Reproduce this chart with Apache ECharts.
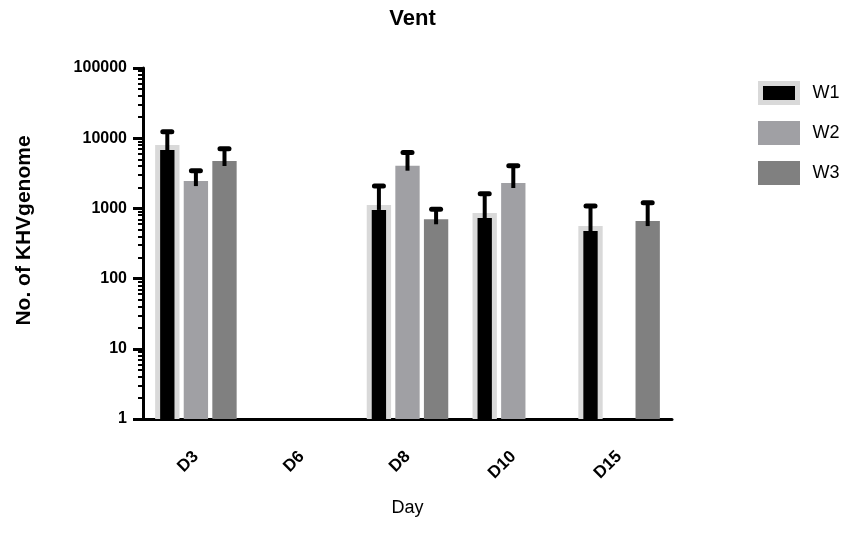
<!DOCTYPE html>
<html>
<head>
<meta charset="utf-8">
<script src="https://cdn.jsdelivr.net/npm/echarts@6/dist/echarts.min.js"></script>
<style>
html, body { margin: 0; padding: 0; background: #ffffff; }
#chart { width: 857px; height: 537px; }
</style>
</head>
<body>
<div id="chart"></div>
<script>
// ---- data ----
const days = ['D3', 'D6', 'D8', 'D10', 'D15'];
const seriesNames = ['W1', 'W2', 'W3'];
const w1Mean  = [8000, null, 1120, 860, 560];
const w1Upper = [12400, null, 2080, 1620, 1080];
const w2Mean  = [2450, null, 4060, 2300, null];
const w2Upper = [3440, null, 6250, 4060, null];
const w3Mean  = [4730, null, 700, null, 660];
const w3Upper = [7080, null, 970, null, 1200];
const yMin = 1;
const yMax = 100000;

// ---- styling ----
const FONT = 'Liberation Sans';
const C_W1_FILL = '#000000';
const C_W1_EDGE = '#d9d9d9';
const C_W2 = '#a0a0a4';
const C_W3 = '#808080';
const BAR_FRAC = 0.23;   // bar width as fraction of category band
const GAP_FRAC = 0.175;  // gap between bars as fraction of bar width
const INSET = 5;         // W1 light border thickness

// minor tick positions (log10 of 2..9 in each decade) for the overlay tick axis
const minorExp = [];
for (let d = 0; d < 5; d++) {
  for (let m = 2; m <= 9; m++) minorExp.push(d + Math.log10(m));
}

function errData(mean, upper) {
  const out = [];
  days.forEach((d, i) => { if (mean[i] != null) out.push([i, mean[i], upper[i]]); });
  return out;
}

function makeRender(slot, inner) {
  return function (params, api) {
    const ci = api.value(0);
    const top = api.coord([ci, api.value(1)]);
    const up = api.coord([ci, api.value(2)]);
    const base = api.coord([ci, yMin]);
    const band = api.size([1, 0], [ci, 1])[0];
    const bw = band * BAR_FRAC;
    const cx = top[0] + (slot - 1) * bw * (1 + GAP_FRAC);
    const children = [];
    if (inner) {
      children.push({
        type: 'rect',
        shape: { x: cx - bw / 2 + INSET, y: top[1] + INSET, width: bw - 2 * INSET, height: base[1] - top[1] - INSET },
        style: { fill: C_W1_FILL }
      });
    }
    children.push({
      type: 'line',
      shape: { x1: cx, y1: top[1] + 5, x2: cx, y2: up[1] },
      style: { stroke: '#000', lineWidth: 4 }
    });
    children.push({
      type: 'line',
      shape: { x1: cx - 4.5, y1: up[1], x2: cx + 4.5, y2: up[1] },
      style: { stroke: '#000', lineWidth: 5, lineCap: 'round' }
    });
    return { type: 'group', children: children };
  };
}

const chart = echarts.init(document.getElementById('chart'), null, { renderer: 'canvas' });

const option = {
  backgroundColor: '#ffffff',
  animation: false,
  title: {
    text: 'Vent',
    left: 407.5,
    textAlign: 'center',
    top: 3,
    textStyle: { fontFamily: FONT, fontSize: 22, fontWeight: 'bold', color: '#000' }
  },
  legend: {
    orient: 'vertical',
    left: 753,
    top: 76,
    itemWidth: 37,
    itemHeight: 19,
    itemGap: 16,
    icon: 'rect',
    selectedMode: false,
    data: [
      { name: seriesNames[0], itemStyle: { color: C_W1_FILL, borderColor: C_W1_EDGE, borderWidth: 5 } },
      { name: seriesNames[1], itemStyle: { color: C_W2, borderColor: C_W2, borderWidth: 5 } },
      { name: seriesNames[2], itemStyle: { color: C_W3, borderColor: C_W3, borderWidth: 5 } }
    ],
    textStyle: { fontFamily: FONT, fontSize: 18, color: '#000', lineHeight: 19, padding: [0, 0, 0, 10] }
  },
  grid: { left: 143, right: 185, top: 68, bottom: 118, containLabel: false },
  xAxis: {
    type: 'category',
    data: days,
    boundaryGap: true,
    name: 'Day',
    nameLocation: 'middle',
    nameGap: 80,
    nameTextStyle: { fontFamily: FONT, fontSize: 18, color: '#000' },
    axisLine: { lineStyle: { color: '#000', width: 3 } },
    axisTick: { alignWithLabel: true, length: 10, lineStyle: { color: '#000', width: 3 } },
    axisLabel: { rotate: 45, margin: 35, fontFamily: FONT, fontSize: 17, fontWeight: 'bold', color: '#000' },
    splitLine: { show: false }
  },
  yAxis: [
    {
      type: 'log',
      logBase: 10,
      min: yMin,
      max: yMax,
      name: 'No. of KHVgenome',
      nameLocation: 'middle',
      nameGap: 108,
      nameTextStyle: { fontFamily: FONT, fontSize: 21, fontWeight: 'bold', color: '#000', padding: [0, 0, 0, 26] },
      axisLine: { show: true, lineStyle: { color: '#000', width: 3 } },
      axisTick: { show: true, length: 10, lineStyle: { color: '#000', width: 3 } },
      axisLabel: {
        margin: 16,
        fontFamily: FONT, fontSize: 16, fontWeight: 'bold', color: '#000',
        formatter: function (v) { return String(Math.round(v)); }
      },
      splitLine: { show: false }
    },
    {
      type: 'value',
      min: 0,
      max: 5,
      position: 'left',
      axisLine: { show: false },
      axisLabel: { show: false },
      splitLine: { show: false },
      axisTick: { show: true, customValues: minorExp, length: 5, lineStyle: { color: '#000', width: 2 } }
    }
  ],
  series: [
    { type: 'bar', name: seriesNames[0], data: w1Mean, barWidth: (BAR_FRAC * 100) + '%', barGap: (GAP_FRAC * 100) + '%', itemStyle: { color: C_W1_EDGE }, z: 2 },
    { type: 'bar', name: seriesNames[1], data: w2Mean, barWidth: (BAR_FRAC * 100) + '%', barGap: (GAP_FRAC * 100) + '%', itemStyle: { color: C_W2 }, z: 2 },
    { type: 'bar', name: seriesNames[2], data: w3Mean, barWidth: (BAR_FRAC * 100) + '%', barGap: (GAP_FRAC * 100) + '%', itemStyle: { color: C_W3 }, z: 2 },
    { type: 'custom', name: 'W1 error', data: errData(w1Mean, w1Upper), renderItem: makeRender(0, true), encode: { x: 0, y: [1, 2] }, z: 3, silent: true },
    { type: 'custom', name: 'W2 error', data: errData(w2Mean, w2Upper), renderItem: makeRender(1, false), encode: { x: 0, y: [1, 2] }, z: 3, silent: true },
    { type: 'custom', name: 'W3 error', data: errData(w3Mean, w3Upper), renderItem: makeRender(2, false), encode: { x: 0, y: [1, 2] }, z: 3, silent: true }
  ]
};

chart.setOption(option);
</script>
</body>
</html>
